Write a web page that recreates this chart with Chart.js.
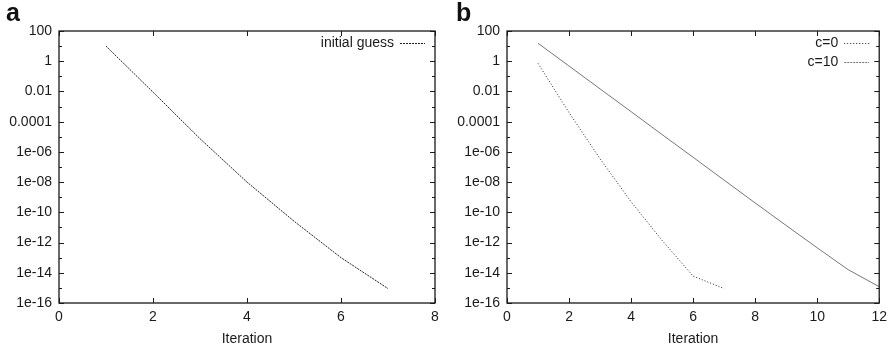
<!DOCTYPE html>
<html lang="en">
  <head>
    <meta charset="UTF-8" />
    <title>Iteration convergence</title>
    <script src="https://cdn.jsdelivr.net/npm/chart.js"></script>
    <style>
      body {
        margin: 0;
        background: #fff;
        font-family: "Liberation Sans", Arial, sans-serif;
      }
      .wrap {
        position: relative;
        width: 893px;
        height: 351px;
      }
      .panel {
        position: absolute;
        top: 0;
      }
      .tag {
        position: absolute;
        top: -2px;
        font-weight: bold;
        font-size: 25px;
        color: #111;
      }
    </style>
  </head>
  <body>
    <div class="wrap">
      <canvas id="chartA" class="panel" width="446" height="351" style="left:0"></canvas>
      <canvas id="chartB" class="panel" width="447" height="351" style="left:446px"></canvas>
      <div class="tag" style="left:6px">a</div>
      <div class="tag" style="left:456px">b</div>
    </div>

    <script>
      // data
      const iterA = [1, 2, 3, 4, 5, 6, 7];
      const initialGuess = [10, 9e-3, 7.5e-6, 1e-8, 2.6e-11, 1e-13, 9e-16];

      const iterB = [1, 2, 3, 4, 5, 6, 7, 8, 9, 10, 11, 12];
      const c0 = [0.72, 4e-4, 3.5e-7, 5e-10, 1.4e-12, 6e-15, 9e-16];
      const c10 = [15.5, 0.48, 0.0148, 4.6e-4, 1.4e-5, 4.4e-7, 1.35e-8, 4.2e-10, 1.35e-11, 4.5e-13, 1.6e-14, 1.2e-15];

      // y ticks: every decade, labels on even exponents
      const yExps = [2, 1, 0, -1, -2, -3, -4, -5, -6, -7, -8, -9, -10, -11, -12, -13, -14, -15, -16];
      const yTickLabels = {
        2: "100", 0: "1", "-2": "0.01", "-4": "0.0001", "-6": "1e-06", "-8": "1e-08",
        "-10": "1e-10", "-12": "1e-12", "-14": "1e-14", "-16": "1e-16",
      };

      const ink = "#1a1a1a";
      const font = { family: "'Liberation Sans', Arial, sans-serif", size: 14 };

      const pts = (xs, ys) => ys.map((v, i) => ({ x: xs[i], y: v }));

      // gnuplot-like box with inward ticks and a legend inside the plot
      const gnuFrame = {
        id: "gnuFrame",
        afterDraw(chart) {
          const { ctx, chartArea: a, scales } = chart;
          const x = scales.x, y = scales.y;
          ctx.save();
          ctx.strokeStyle = ink;
          ctx.lineWidth = 1.3;
          ctx.strokeRect(a.left, a.top, a.right - a.left, a.bottom - a.top);
          ctx.lineWidth = 1;
          ctx.beginPath();
          x.ticks.forEach((t) => {
            const px = Math.round(x.getPixelForValue(t.value)) + 0.5;
            ctx.moveTo(px, a.bottom); ctx.lineTo(px, a.bottom - 5);
            ctx.moveTo(px, a.top); ctx.lineTo(px, a.top + 5);
          });
          y.ticks.forEach((t) => {
            const e = Math.round(Math.log10(t.value));
            const len = e % 2 === 0 ? 5 : 3;
            const py = Math.round(y.getPixelForValue(t.value)) + 0.5;
            ctx.moveTo(a.left, py); ctx.lineTo(a.left + len, py);
            ctx.moveTo(a.right, py); ctx.lineTo(a.right - len, py);
          });
          ctx.stroke();

          // legend
          ctx.font = `${font.size}px ${font.family}`;
          ctx.textAlign = "right";
          ctx.textBaseline = "middle";
          chart.data.datasets.forEach((ds, i) => {
            const ly = a.top + 12 + i * 19;
            ctx.fillStyle = ink;
            ctx.fillText(ds.label, a.right - 41, ly);
            ctx.strokeStyle = ds.borderColor;
            ctx.lineWidth = ds.borderWidth;
            ctx.setLineDash(ds.legendDash || ds.borderDash || []);
            ctx.beginPath();
            ctx.moveTo(a.right - 35, ly + 0.5);
            ctx.lineTo(a.right - 10, ly + 0.5);
            ctx.stroke();
            ctx.setLineDash([]);
          });
          ctx.restore();
        },
      };

      function makeOptions(xMax, yWidth, padRight) {
        return {
          responsive: false,
          animation: false,
          layout: { padding: { top: 31, right: padRight, bottom: 0, left: 0 } },
          plugins: { legend: { display: false }, tooltip: { enabled: false } },
          elements: { point: { radius: 0 }, line: { tension: 0 } },
          scales: {
            x: {
              type: "linear",
              min: 0,
              max: xMax,
              grid: { display: false, drawTicks: false },
              border: { display: false },
              ticks: { stepSize: 2, padding: 6, color: ink, font, maxRotation: 0 },
              title: { display: true, text: "Iteration", color: ink, font, padding: { top: 0, bottom: 3 } },
              afterFit: (s) => { s.height = 48; },
            },
            y: {
              type: "logarithmic",
              min: 1e-16,
              max: 100,
              grid: { display: false, drawTicks: false },
              border: { display: false },
              afterBuildTicks: (s) => {
                s.ticks = yExps.map((e) => ({ value: Math.pow(10, e) }));
              },
              ticks: {
                autoSkip: false,
                padding: 7,
                color: ink,
                font,
                callback: (v) => yTickLabels[Math.round(Math.log10(v))] || "",
              },
              afterFit: (s) => { s.width = yWidth; },
            },
          },
        };
      }

      new Chart(document.getElementById("chartA"), {
        type: "line",
        data: {
          datasets: [
            {
              label: "initial guess",
              data: pts(iterA, initialGuess),
              borderColor: "#222",
              borderWidth: 1,
              borderDash: [2, 1],
            },
          ],
        },
        options: makeOptions(8, 59, 11),
        plugins: [gnuFrame],
      });

      new Chart(document.getElementById("chartB"), {
        type: "line",
        data: {
          datasets: [
            {
              label: "c=0",
              data: pts(iterB, c0),
              borderColor: "#222",
              borderWidth: 1,
              borderDash: [1, 2],
            },
            {
              label: "c=10",
              data: pts(iterB, c10),
              borderColor: "#777",
              borderWidth: 1,
              legendDash: [2, 1],
            },
          ],
        },
        options: makeOptions(12, 61, 10),
        plugins: [gnuFrame],
      });
    </script>
  </body>
</html>
